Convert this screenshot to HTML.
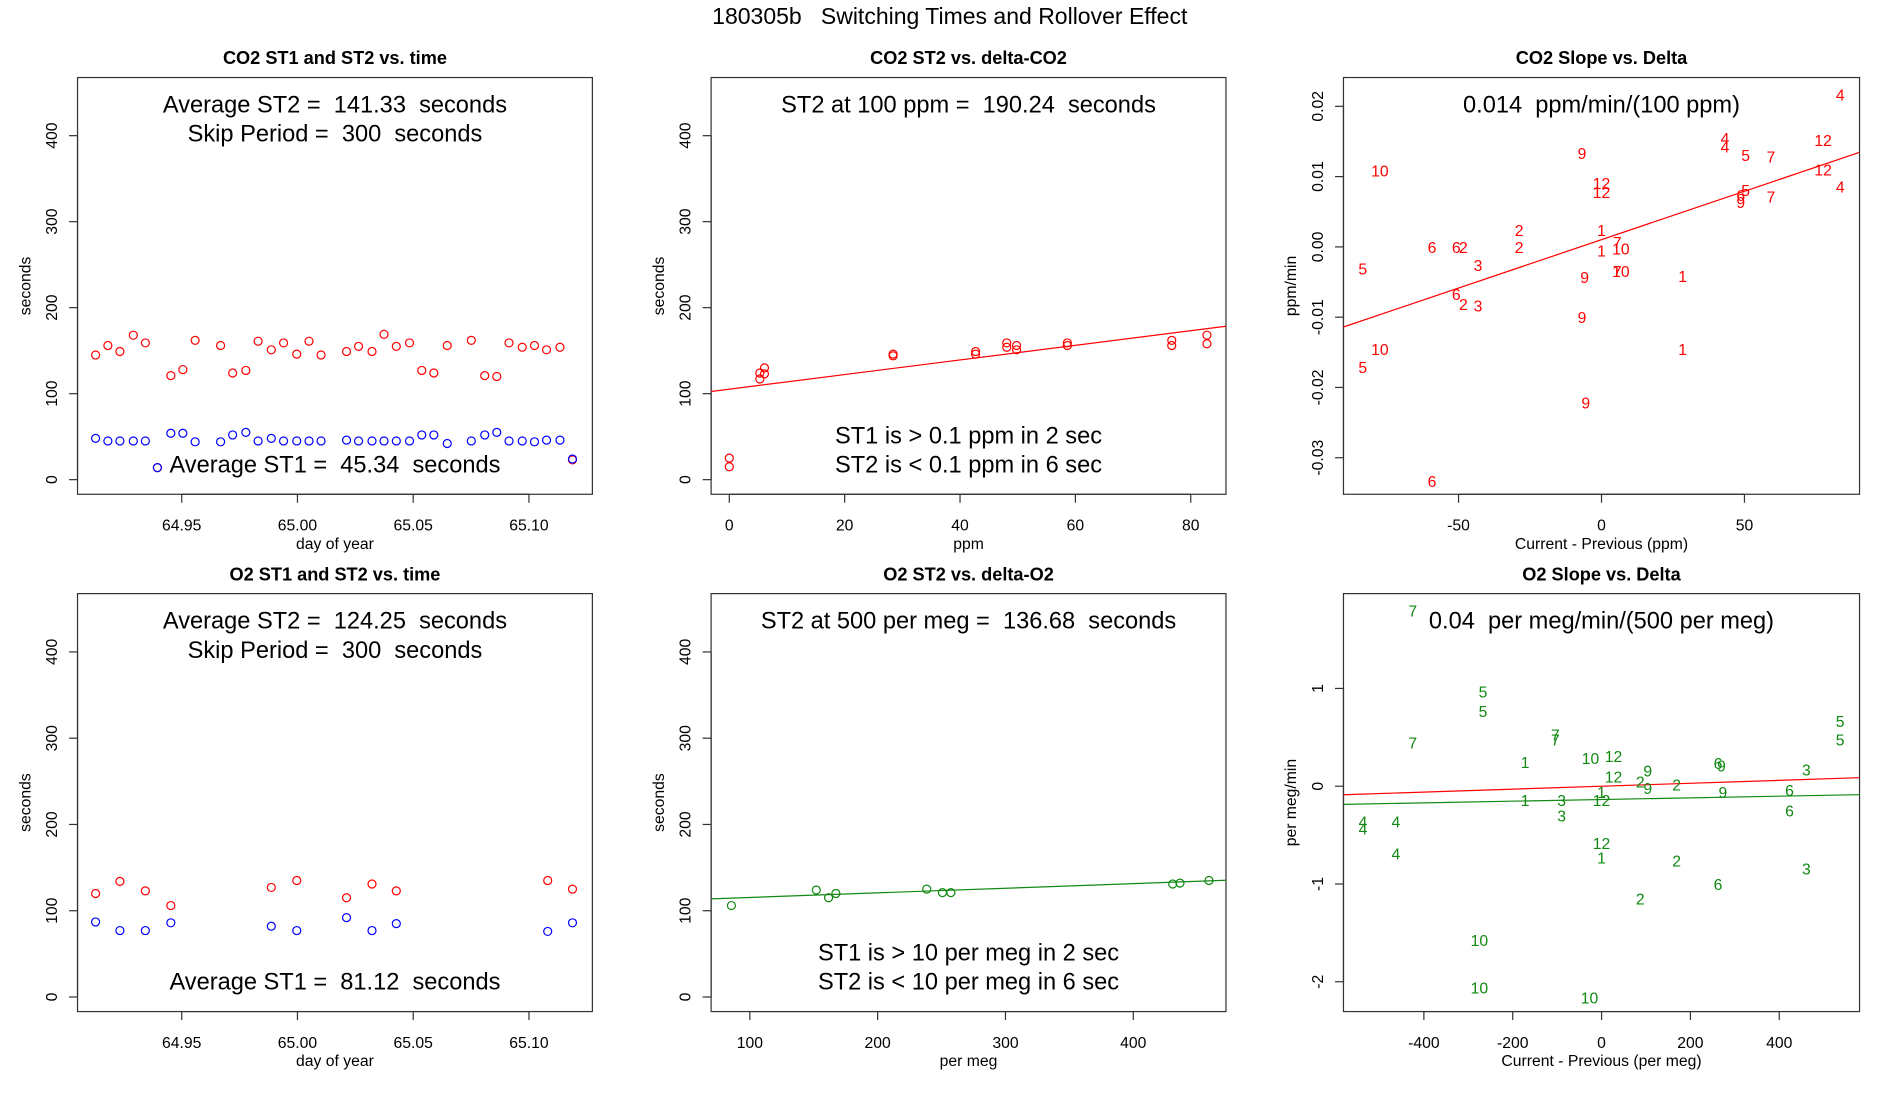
<!DOCTYPE html>
<html><head><meta charset="utf-8"><style>
html,body{margin:0;padding:0;background:#fff;}
svg{display:block;font-family:"Liberation Sans",sans-serif;}
text.ann{white-space:pre;}
</style></head><body>
<svg id="fig" width="1900" height="1100" viewBox="0 0 1568.4 908" preserveAspectRatio="none" xmlns="http://www.w3.org/2000/svg">
<text class="ann" x="784" y="20" font-size="19" text-anchor="middle">180305b   Switching Times and Rollover Effect</text>
</svg>
<script>
// ---- Panel 1: CO2 ST1/ST2 vs time ----
const co2Days = [64.9128,64.9181,64.9233,64.9291,64.9343,64.9395,64.9453,64.9505,64.9558,64.9668,64.9720,64.9777,64.9830,64.9887,64.9940,64.9997,65.0050,65.0102,65.0212,65.0264,65.0322,65.0374,65.0427,65.0484,65.0537,65.0589,65.0647,65.0751,65.0809,65.0861,65.0914,65.0971,65.1024,65.1076,65.1134,65.1188];
const co2ST2 = [145,156,149,168,159,14,121,128,162,156,124,127,161,151,159,146,161,145,149,155,149,169,155,159,127,124,156,162,121,120,159,154,156,151,154,23];
const co2ST1 = [48,45,45,45,45,14,54,54,44,44,52,55,45,48,45,45,45,45,46,45,45,45,45,45,52,52,42,45,52,55,45,45,44,46,46,24];
// ---- Panel 4: O2 ST1/ST2 vs time ----
const o2Days = [64.9128,64.9233,64.9343,64.9453,64.9887,64.9997,65.0212,65.0322,65.0427,65.1081,65.1188];
const o2ST2 = [120,134,123,106,127,135,115,131,123,135,125];
const o2ST1 = [87,77,77,86,82,77,92,77,85,76,86];
// ---- Panel 2: CO2 ST2 vs delta ----
const co2Delta = [0,0,5.3,5.3,6.1,6.1,28.4,28.4,42.7,42.7,48.1,48.1,49.8,49.8,58.6,58.6,76.7,76.7,82.8,82.8];
const co2DeltaST2 = [25,15,124,117,130,123,146,144,149,146,159,154,156,151,159,156,162,156,168,158];
const co2Fit = [105.2,0.85];
// ---- Panel 5: O2 ST2 vs delta ----
const o2Delta = [85.6,152,161.6,167.3,238.4,250.7,257.3,430.8,436.5,459.2];
const o2DeltaST2 = [106,124,115,120,125,121,121,131,132,135];
const o2Fit = [110,0.0535];
// ---- Panel 3: CO2 slope vs delta ----
const co2SlopeLabels = ["4","4","4","5","7","12","10","9","12","12","12","4","5","6","9","7","2","2","1","6","6","2","7","1","10","5","3","9","7","10","1","6","2","3","9","10","1","5","9","6"];
const co2SlopeX = [83.5,43.2,43.2,50.4,59.3,77.5,-77.5,-6.8,0,0,77.5,83.5,50.4,48.7,48.7,59.3,-28.8,-28.8,0,-59.3,-50.8,-48.3,5.5,0,6.8,-83.5,-43.2,-5.9,5.5,6.8,28.4,-50.8,-48.3,-43.2,-6.8,-77.5,28.4,-83.5,-5.5,-59.3];
const co2SlopeY = [0.0217,0.0155,0.0143,0.0131,0.0129,0.0152,0.0109,0.0134,0.0091,0.0078,0.0110,0.0086,0.0081,0.0074,0.0064,0.0072,0.0024,0,0.0024,0,0,0,0.0007,-0.0005,-0.0002,-0.0031,-0.0026,-0.0043,-0.0034,-0.0034,-0.0041,-0.0067,-0.0081,-0.0083,-0.0100,-0.0145,-0.0145,-0.0171,-0.0221,-0.0333];
const co2SlopeFit = [0.00103,0.0001377];
// ---- Panel 6: O2 slope vs delta ----
const o2SlopeLabels = ["7","5","5","7","7","7","5","5","1","10","12","6","9","9","12","2","2","3","9","1","12","3","1","6","9","3","6","4","4","4","12","1","4","2","3","6","2","10","10","10"];
const o2SlopeX = [-425,-267,-267,-425,-104,-104,537,537,-172,-25,27,262,270,104,27,87,169,461,104,0,0,-90,-172,423,273,-90,423,-537,-537,-463,0,0,-463,169,461,262,87,-275,-275,-27];
const o2SlopeY = [1.80,0.97,0.77,0.45,0.53,0.48,0.67,0.48,0.25,0.29,0.31,0.24,0.21,0.16,0.10,0.05,0.02,0.17,-0.02,-0.06,-0.14,-0.14,-0.14,-0.04,-0.06,-0.30,-0.25,-0.36,-0.43,-0.36,-0.58,-0.73,-0.69,-0.76,-0.84,-1.00,-1.15,-1.57,-2.06,-2.16];
const o2SlopeFitRed = [0,0.00015];
const o2SlopeFitGreen = [-0.136,0.0000852];

const NS="http://www.w3.org/2000/svg";
const svg=document.getElementById('fig');
function mk(tag,attrs,parent){const e=document.createElementNS(NS,tag);for(const k in attrs)e.setAttribute(k,attrs[k]);(parent||svg).appendChild(e);return e;}
function txt(s,attrs,parent){const e=mk('text',attrs,parent);e.textContent=s;return e;}

function panel(o){
  const g=mk('g',{});
  
  
  const sx=v=>o.x0+(v-o.xd[0])/(o.xd[1]-o.xd[0])*(o.x1-o.x0);
  const sy=v=>o.y1-(v-o.yd[0])/(o.yd[1]-o.yd[0])*(o.y1-o.y0);
  const t=txt(o.title,{x:(o.x0+o.x1)/2,y:o.y0-11,'font-size':15,'font-weight':'bold','text-anchor':'middle'},g);
  
  
  const b=mk('rect',{x:o.x0,y:o.y0,width:o.x1-o.x0,height:o.y1-o.y0,fill:'none',stroke:'#333','stroke-width':1},g);
  
  
  const xa=mk('g',{},g);
  
  
  mk('line',{x1:sx(o.xt[0]),x2:sx(o.xt[o.xt.length-1]),y1:o.y1,y2:o.y1,stroke:'#333'},xa);
  o.xt.forEach((v,i)=>{const X=sx(v);mk('line',{x1:X,x2:X,y1:o.y1,y2:o.y1+7,stroke:'#333'},xa);
    const l=txt(o.xl[i],{x:X,y:o.y1+30,'font-size':13,'text-anchor':'middle'},xa);
    
    });
  const xt=txt(o.xlab,{x:(o.x0+o.x1)/2,y:o.y1+45,'font-size':13,'text-anchor':'middle'},g);
  
  
  const ya=mk('g',{},g);
  
  
  mk('line',{x1:o.x0,x2:o.x0,y1:sy(o.yt[0]),y2:sy(o.yt[o.yt.length-1]),stroke:'#333'},ya);
  o.yt.forEach((v,i)=>{const Y=sy(v);mk('line',{x1:o.x0,x2:o.x0-7,y1:Y,y2:Y,stroke:'#333'},ya);
    const l=txt(o.yl[i],{x:0,y:0,'font-size':13,'text-anchor':'middle',transform:`translate(${o.x0-17},${Y}) rotate(-90)`},ya);
    
    });
  const yt=txt(o.ylab,{x:0,y:0,'font-size':13,'text-anchor':'middle',transform:`translate(${o.x0-39},${(o.y0+o.y1)/2}) rotate(-90)`},g);
  
  
  (o.notes||[]).forEach(n=>{const e=txt(n[0],{x:(o.x0+o.x1)/2,y:n[1],'font-size':19.5,'text-anchor':'middle','class':'ann'},g);
    
    });
  return {g,sx,sy};
}
function circles(p,xs,ys,col,name){xs.forEach((v,i)=>{const c=mk('circle',{cx:p.sx(v),cy:p.sy(ys[i]),r:3.3,fill:'none',stroke:col,'stroke-width':1},p.g);
  
  });}
function fitLine(p,fit,xd,col,name){const l=mk('line',{x1:p.sx(xd[0]),x2:p.sx(xd[1]),y1:p.sy(fit[0]+fit[1]*xd[0]),y2:p.sy(fit[0]+fit[1]*xd[1]),stroke:col,'stroke-width':1},p.g);
  
  }
function labels(p,ls,xs,ys,col){ls.forEach((s,i)=>{const e=txt(s,{x:p.sx(xs[i]),y:p.sy(ys[i])+5,'font-size':13,'text-anchor':'middle',fill:col},p.g);
  
  });}

const secT=[0,100,200,300,400], secL=['0','100','200','300','400'];
const dayT=[64.95,65.00,65.05,65.10], dayL=['64.95','65.00','65.05','65.10'];
const dayD=[64.9050,65.1274], secD=[-17.0,467.6], secD2=[-16.9,467.6];

const p1=panel({name:'co2-time-panel',x0:64,x1:489,y0:64,y1:408,xd:dayD,yd:secD,xt:dayT,xl:dayL,yt:secT,yl:secL,title:'CO2 ST1 and ST2 vs. time',xlab:'day of year',ylab:'seconds',
  notes:[['Average ST2 =  141.33  seconds',93],['Skip Period =  300  seconds',117],['Average ST1 =  45.34  seconds',390]]});
circles(p1,co2Days,co2ST2,'#ff0000','st2-point');
circles(p1,co2Days,co2ST1,'#0000ff','st1-point');

const p4=panel({name:'o2-time-panel',x0:64,x1:489,y0:490,y1:835,xd:dayD,yd:secD2,xt:dayT,xl:dayL,yt:secT,yl:secL,title:'O2 ST1 and ST2 vs. time',xlab:'day of year',ylab:'seconds',
  notes:[['Average ST2 =  124.25  seconds',519],['Skip Period =  300  seconds',543],['Average ST1 =  81.12  seconds',817]]});
circles(p4,o2Days,o2ST2,'#ff0000','st2-point');
circles(p4,o2Days,o2ST1,'#0000ff','st1-point');

const p2=panel({name:'co2-delta-panel',x0:587,x1:1012,y0:64,y1:408,xd:[-3.15,86.1],yd:secD,xt:[0,20,40,60,80],xl:['0','20','40','60','80'],yt:secT,yl:secL,title:'CO2 ST2 vs. delta-CO2',xlab:'ppm',ylab:'seconds',
  notes:[['ST2 at 100 ppm =  190.24  seconds',93],['ST1 is > 0.1 ppm in 2 sec',366],['ST2 is < 0.1 ppm in 6 sec',390]]});
fitLine(p2,co2Fit,[-3.15,86.1],'#ff0000','fit-line');
circles(p2,co2Delta,co2DeltaST2,'#ff0000','st2-point');

const p5=panel({name:'o2-delta-panel',x0:587,x1:1012,y0:490,y1:835,xd:[69.7,472.5],yd:secD2,xt:[100,200,300,400],xl:['100','200','300','400'],yt:secT,yl:secL,title:'O2 ST2 vs. delta-O2',xlab:'per meg',ylab:'seconds',
  notes:[['ST2 at 500 per meg =  136.68  seconds',519],['ST1 is > 10 per meg in 2 sec',793],['ST2 is < 10 per meg in 6 sec',817]]});
fitLine(p5,o2Fit,[69.7,472.5],'#118811','fit-line');
circles(p5,o2Delta,o2DeltaST2,'#118811','st2-point');

const p3=panel({name:'co2-slope-panel',x0:1109,x1:1535,y0:64,y1:408,xd:[-90.25,90.25],yd:[-0.0352,0.0241],xt:[-50,0,50],xl:['-50','0','50'],yt:[-0.03,-0.02,-0.01,0,0.01,0.02],yl:['-0.03','-0.02','-0.01','0.00','0.01','0.02'],title:'CO2 Slope vs. Delta',xlab:'Current - Previous (ppm)',ylab:'ppm/min',
  notes:[['0.014  ppm/min/(100 ppm)',93]]});
fitLine(p3,co2SlopeFit,[-90.25,90.25],'#ff0000','fit-line');
labels(p3,co2SlopeLabels,co2SlopeX,co2SlopeY,'#ff0000');

const p6=panel({name:'o2-slope-panel',x0:1109,x1:1535,y0:490,y1:835,xd:[-581,580.7],yd:[-2.305,1.97],xt:[-400,-200,0,200,400],xl:['-400','-200','0','200','400'],yt:[-2,-1,0,1],yl:['-2','-1','0','1'],title:'O2 Slope vs. Delta',xlab:'Current - Previous (per meg)',ylab:'per meg/min',
  notes:[['0.04  per meg/min/(500 per meg)',519]]});
fitLine(p6,o2SlopeFitRed,[-581,580.7],'#ff0000','fit-line-red');
fitLine(p6,o2SlopeFitGreen,[-581,580.7],'#118811','fit-line-green');
labels(p6,o2SlopeLabels,o2SlopeX,o2SlopeY,'#118811');
</script>
</body></html>
